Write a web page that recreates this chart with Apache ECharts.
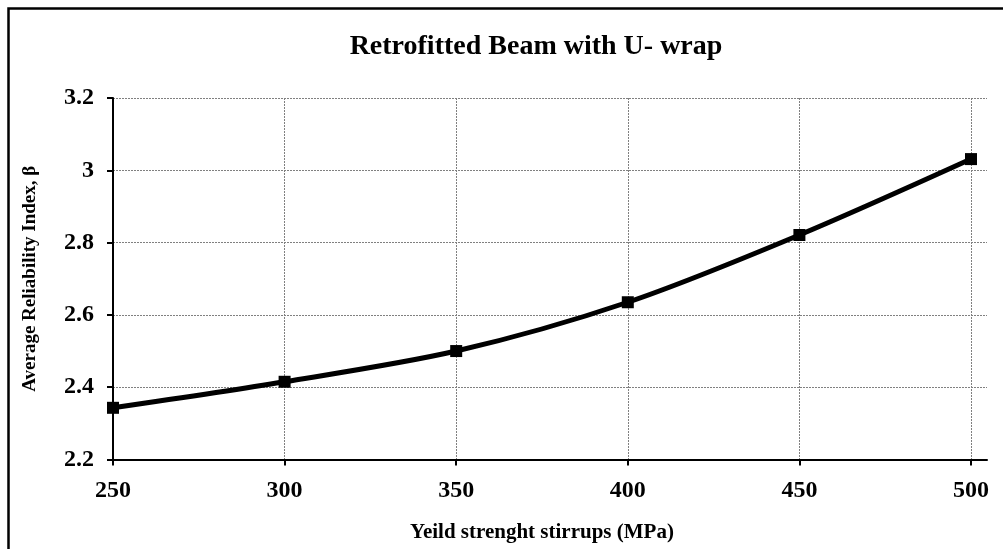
<!DOCTYPE html>
<html>
<head>
<meta charset="utf-8">
<script src="https://cdn.jsdelivr.net/npm/echarts@6/dist/echarts.min.js"></script>
<style>
  html, body { margin: 0; padding: 0; background: #fff; }
  #chart { width: 1003px; height: 549px; }
</style>
</head>
<body>
<div id="chart"></div>
<script>
// yield strength of stirrups (MPa)
var xValues = [250, 300, 350, 400, 450, 500];
// average reliability index beta
var betaValues = [2.343, 2.415, 2.5, 2.635, 2.821, 3.031];
var yTicks = [2.2, 2.4, 2.6, 2.8, 3, 3.2];

var serif = "'Liberation Serif', 'Times New Roman', serif";
var pts = xValues.map(function (x, i) {
  return [x, betaValues[i]];
});

var chart = echarts.init(document.getElementById("chart"));
chart.setOption({
  backgroundColor: "#fff",
  animation: false,
  title: {
    text: "Retrofitted Beam with U- wrap",
    left: 531,
    top: 28,
    textAlign: "center",
    textStyle: { fontFamily: serif, fontWeight: "bold", fontSize: 28, color: "#000" },
  },
  graphic: [
    {
      type: "rect",
      left: 6,
      top: 6,
      shape: { width: 1100, height: 700 },
      style: { fill: "none", stroke: "#000", lineWidth: 2.5 },
    },
  ],
  grid: [
    // outer grid: y axis + horizontal gridlines, reaches a bit past 500
    { left: 113, right: 16, top: 98, bottom: 89.5 },
    // inner grid: x ticks at 250..500
    { left: 113, right: 32, top: 98, bottom: 89.5 },
  ],
  xAxis: [
    {
      gridIndex: 0,
      type: "value",
      min: 250,
      max: 504,
      axisLine: { show: true, onZero: false, lineStyle: { color: "#000", width: 2 } },
      axisTick: { show: false },
      axisLabel: { show: false },
      splitLine: { show: false },
    },
    {
      gridIndex: 1,
      type: "value",
      min: 250,
      max: 500,
      interval: 50,
      name: "Yeild strenght stirrups (MPa)",
      nameLocation: "middle",
      nameGap: 63,
      nameTextStyle: { fontFamily: serif, fontWeight: "bold", fontSize: 21, color: "#000" },
      axisLine: { show: false },
      axisTick: { show: true, length: 6, lineStyle: { color: "#000", width: 2 } },
      axisLabel: { margin: 19, fontFamily: serif, fontWeight: "bold", fontSize: 24, color: "#000" },
      splitLine: { show: true, lineStyle: { color: "#808080", width: 1, type: [2, 1] } },
    },
  ],
  yAxis: [
    {
      gridIndex: 0,
      type: "value",
      min: yTicks[0],
      max: yTicks[yTicks.length - 1],
      interval: 0.2,
      name: "Average Reliability Index, \u03b2",
      nameLocation: "middle",
      nameRotate: 90,
      nameGap: 73,
      nameTextStyle: { fontFamily: serif, fontWeight: "bold", fontSize: 19, color: "#000" },
      axisLine: { show: true, onZero: false, lineStyle: { color: "#000", width: 2 } },
      axisTick: { show: true, length: 6, lineStyle: { color: "#000", width: 2 } },
      axisLabel: { margin: 19, fontFamily: serif, fontWeight: "bold", fontSize: 24, color: "#000" },
      splitLine: { show: true, lineStyle: { color: "#808080", width: 1, type: [2, 1] } },
    },
    {
      gridIndex: 1,
      type: "value",
      min: yTicks[0],
      max: yTicks[yTicks.length - 1],
      show: false,
    },
  ],
  series: [
    {
      type: "line",
      xAxisIndex: 1,
      yAxisIndex: 1,
      data: pts,
      smooth: 0.3,
      symbol: "rect",
      symbolSize: 12,
      itemStyle: { color: "#000" },
      lineStyle: { color: "#000", width: 5 },
      z: 5,
    },
  ],
});
</script>
</body>
</html>
